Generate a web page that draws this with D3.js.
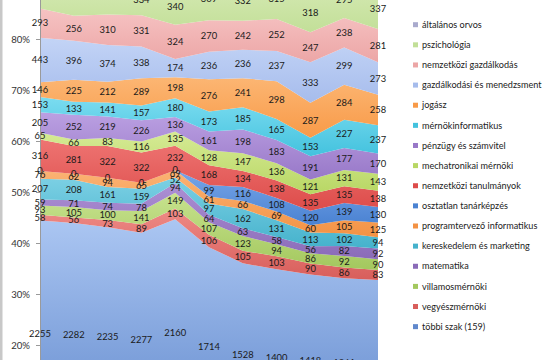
<!DOCTYPE html>
<html><head><meta charset="utf-8">
<script src="https://cdn.jsdelivr.net/npm/d3@7"></script>
<style>body{margin:0;background:#fff;overflow:hidden} text{font-family:Lato,"Open Sans",sans-serif}</style>
</head><body><svg id="c" width="552" height="360"></svg>
<script>
const years = ["2008","2009","2010","2011","2012","2013","2014","2015","2016","2017","2018"];
// series, bottom to top
const seriesNames = ["többi szak (159)","vegyészmérnöki","villamosmérnöki","matematika","kereskedelem és marketing","programtervező informatikus","osztatlan tanárképzés","nemzetközi tanulmányok","mechatronikai mérnöki","pénzügy és számvitel","mérnökinformatikus","jogász","gazdálkodási és menedzsment","nemzetközi gazdálkodás","pszichológia","általános orvos"];
const tobbi          = [2255,2282,2235,2277,2160,1714,1528,1400,1418,1361,1408];
const vegyesz        = [58,56,73,89,103,106,105,103,90,86,83];
const villamos       = [93,105,100,141,149,107,123,94,86,92,90];
const matematika     = [59,71,74,78,94,64,63,58,56,82,92];
const kereskedelem   = [207,208,161,159,52,97,162,131,113,102,94];
const programtervezo = [76,62,94,65,69,61,66,69,60,105,125];
const osztatlan      = [0,0,0,0,0,99,116,108,120,139,130];
const nemzTan        = [316,281,322,322,232,168,134,138,135,135,138];
const mechatronikai  = [65,66,83,116,135,128,147,136,121,131,143];
const penzugy        = [205,252,219,226,136,161,198,183,191,177,170];
const mernokinf      = [153,133,141,157,180,173,185,165,153,227,237];
const jogasz         = [146,225,212,289,198,276,241,298,287,284,258];
const gazdalkodasi   = [443,396,374,338,174,236,236,237,333,299,273];
const nemzGazd       = [293,256,310,331,324,270,242,252,247,238,281];
const pszichologia   = [420,420,420,334,340,369,332,315,318,295,337];
const orvos          = [291,381,367,498,493,345,365,332,466,358,438];
const yTicks = [0,0.1,0.2,0.3,0.4,0.5,0.6,0.7,0.8,0.9,1];

const allSeries = [tobbi,vegyesz,villamos,matematika,kereskedelem,programtervezo,osztatlan,nemzTan,mechatronikai,penzugy,mernokinf,jogasz,gazdalkodasi,nemzGazd,pszichologia,orvos];
const light = ["#abc6f2","#ee8a86","#c7e28e","#ad90d4","#7cd0e4","#fbb374","#78a6e8","#ee7472","#d6ea95","#bba0e2","#7bdcf0","#fcb673","#c3d4f6","#f6c3c3","#dcedbc","#c8c8e2"];
const dark  = ["#6088cc","#d85e5b","#a3c85e","#8a6bb8","#45b2cc","#f39244","#4a82d2","#dd4c4a","#b8d764","#9878c8","#43c2de","#f89a48","#a6bcec","#eca6a6","#c2df98","#a9aacd"];

const table = years.map((y,i)=>{const o={year:y}; seriesNames.forEach((n,k)=>o[n]=allSeries[k][i]); return o;});
const stack = d3.stack().keys(seriesNames).offset(d3.stackOffsetExpand)(table);

const svg = d3.select("#c");
const x = d3.scaleLinear().domain([0, years.length-1]).range([40, 378]);
const y = d3.scaleLinear().domain([0,1]).range([447,-63]);

const defs = svg.append("defs");
seriesNames.forEach((n,k)=>{
  const g = defs.append("linearGradient").attr("id","g"+k).attr("x1",0).attr("y1",0).attr("x2",0).attr("y2",1);
  g.append("stop").attr("offset","0%").attr("stop-color",light[k]);
  g.append("stop").attr("offset","100%").attr("stop-color",dark[k]);
});

svg.append("rect").attr("x",0).attr("y",0).attr("width",2.5).attr("height",360).attr("fill","#c8c8c8");

const area = d3.area().x((d,i)=>x(i)).y0(d=>y(d[0])).y1(d=>y(d[1]));
svg.append("g").selectAll("path").data(stack).join("path")
  .attr("d",area).attr("fill",(d,k)=>`url(#g${k})`);

// y axis
const yAxis = d3.axisLeft(y).tickValues(yTicks).tickFormat(d3.format(".0%")).tickSize(4).tickPadding(6);
const ga = svg.append("g").attr("transform","translate(40,0)").call(yAxis);
ga.select(".domain").attr("stroke","#9a9a9a");
ga.selectAll(".tick line").attr("stroke","#9a9a9a");
ga.selectAll(".tick text").attr("fill","#333").style("font-size","9.6px").style("font-family","Lato,sans-serif");

// x axis (below visible area)
const xAxis = d3.axisBottom(x).tickValues(d3.range(years.length)).tickFormat(i=>years[i]);
svg.append("g").attr("transform","translate(0,447)").call(xAxis);

// data labels
const lab = svg.append("g").attr("font-size","9.4px").attr("fill","#1a1a1a").attr("text-anchor","middle");
stack.forEach((s,k)=>{
  s.forEach((d,i)=>{
    lab.append("text").attr("x",x(i)).attr("y",y((d[0]+d[1])/2)).attr("dy","0.35em")
      .text(allSeries[k][i]);
  });
});

// legend (top to bottom = reversed series)
const leg = svg.append("g").attr("font-size","9.1px").attr("fill","#222");
seriesNames.slice().reverse().forEach((n,j)=>{
  const k = seriesNames.length-1-j;
  const cy = 24.7 + j*20.13;
  leg.append("rect").attr("x",413).attr("y",cy-2.5).attr("width",5).attr("height",5).attr("fill",dark[k]);
  leg.append("text").attr("x",422).attr("y",cy).attr("dy","0.35em").text(n);
});
</script></body></html>
